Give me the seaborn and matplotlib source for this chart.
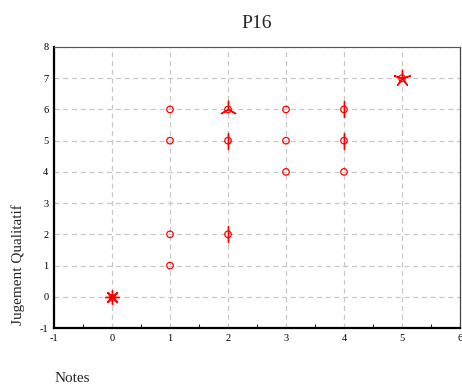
import numpy as np
import pandas as pd
import matplotlib
matplotlib.use("Agg")
import matplotlib.pyplot as plt
import seaborn as sns

# --- Données (sunflower plot : nombre d'observations par point) ---
notes = [0, 1, 1, 1, 1, 2, 2, 2, 3, 3, 3, 4, 4, 4, 5]
jugement = [0, 1, 2, 5, 6, 2, 5, 6, 4, 5, 6, 4, 5, 6, 7]
effectifs = [8, 1, 1, 1, 1, 2, 2, 3, 1, 1, 1, 1, 2, 2, 5]

df = pd.DataFrame({"Notes": notes, "Jugement": jugement, "n": effectifs})

sns.set_style("white")
plt.rcParams["font.family"] = ["Liberation Serif", "DejaVu Serif"]
plt.rcParams["axes.unicode_minus"] = False

fig = plt.figure(figsize=(4.62, 3.87), dpi=100)
ax = fig.add_axes([54 / 462, 1 - 328 / 387, 406 / 462, 281 / 387])

rouge = "#ff0000"

# cercles (un par point, sauf le point très chargé)
sns.scatterplot(data=df[df["n"] < 6], x="Notes", y="Jugement", ax=ax,
                marker="o", s=22, facecolor="none", edgecolor=rouge,
                linewidth=0.9, zorder=3)

# pétales
for k, sub in df[df["n"] > 1].groupby("n"):
    taille = 140 if k < 6 else 100
    sns.scatterplot(data=sub, x="Notes", y="Jugement", ax=ax,
                    marker=(int(k), 2, 0), s=taille, color=rouge,
                    linewidth=1.0, zorder=4)
sns.scatterplot(data=df[df["n"] >= 6], x="Notes", y="Jugement", ax=ax,
                marker="o", s=22, color=rouge, edgecolor=rouge, zorder=5)

ax.set_xlim(-1, 6)
ax.set_ylim(-1, 8)
ax.set_xticks(range(-1, 7))
ax.set_yticks(range(-1, 9))
ax.set_xticks(np.arange(-0.5, 6, 1), minor=True)
ax.grid(True, which="major", color="#c8c8c8", linestyle=(0, (4, 3)), linewidth=0.9)
ax.set_axisbelow(True)

ax.tick_params(axis="both", which="major", direction="in", length=3, width=2,
               labelsize=7.5, colors="black", pad=4)
ax.tick_params(axis="x", which="minor", direction="in", length=3, width=0.8,
               bottom=True)

for cote in ["left", "bottom"]:
    ax.spines[cote].set_color("black")
    ax.spines[cote].set_linewidth(1.6)
ax.spines["right"].set_color("#444444")
ax.spines["right"].set_linewidth(0.9)
ax.spines["top"].set_color("#555555")
ax.spines["top"].set_linewidth(0.8)

ax.set_xlabel("")
ax.set_ylabel("")
ax.set_title("P16", fontsize=14, pad=14)
fig.text(18 / 462, 1 - 265 / 387, "Jugement Qualitatif", fontsize=11,
         rotation=90, ha="center", va="center")
fig.text(55 / 462, 1 - 378 / 387, "Notes", fontsize=11, ha="left", va="center")

fig.savefig("out.png", dpi=100)
